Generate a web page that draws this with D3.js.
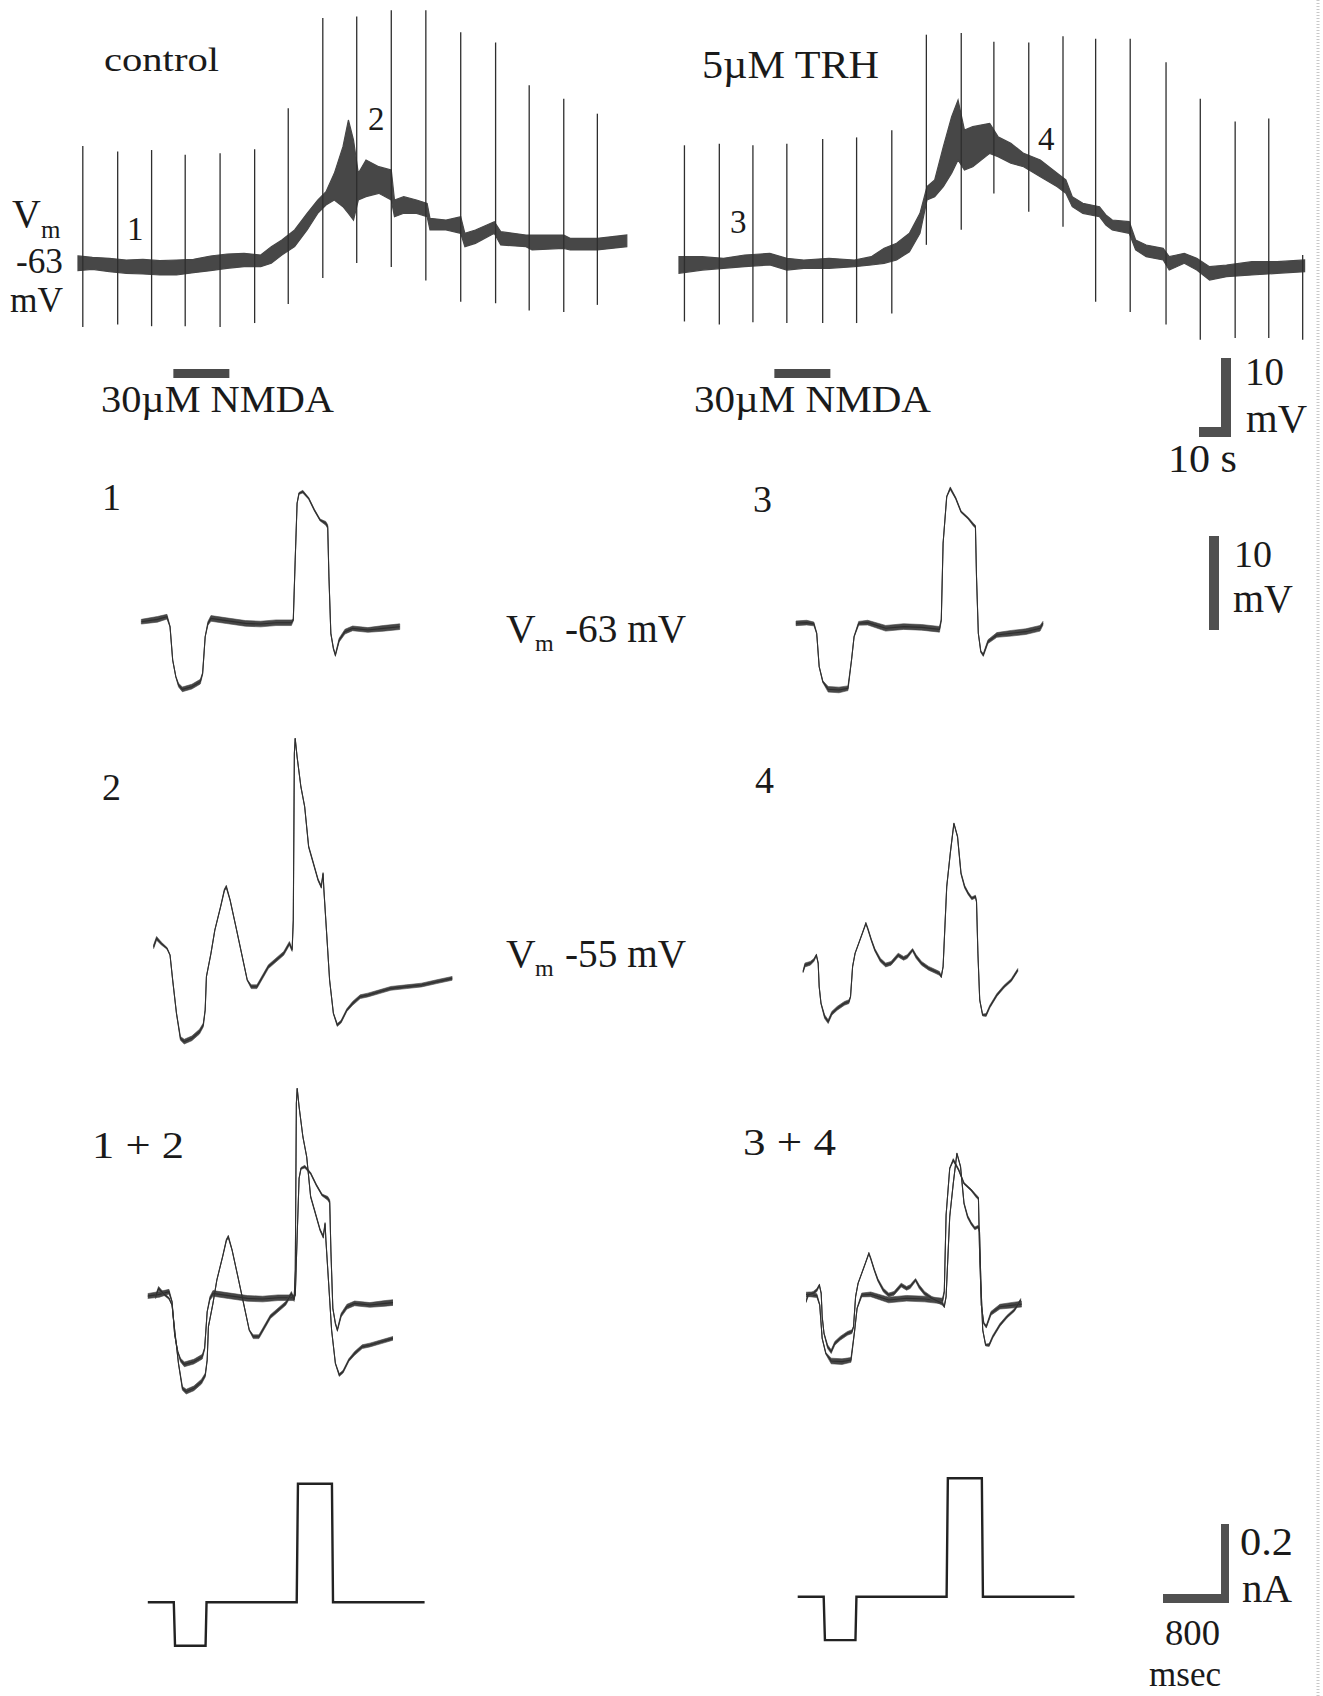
<!DOCTYPE html>
<html>
<head>
<meta charset="utf-8">
<script src="https://cdn.jsdelivr.net/npm/d3@7"></script>
<style>
  body { margin: 0; background: #fff; }
  svg text { font-family: "Liberation Serif", "DejaVu Serif", serif; fill: #1a1a1a; }
</style>
</head>
<body>
<div id="chart"></div>
<script>
// ---- slow recordings (t in s, upper / lower edge of the noisy band in mV) ----
const ctlTrace = [
  [0, -62.11, -63.97], [4.5, -62.28, -63.80], [9.8, -62.41, -64.10], [15.1, -62.62, -64.31],
  [20.3, -62.54, -64.39], [25.6, -62.70, -64.52], [30.8, -62.62, -64.52], [36.1, -62.54, -64.22],
  [41.4, -62.11, -63.97], [46.6, -61.86, -63.68], [51.9, -61.78, -63.46], [57.1, -61.99, -63.46],
  [60.4, -60.93, -63.04], [63.7, -60.09, -61.99], [67.7, -58.82, -60.93], [71.6, -56.71, -58.82],
  [74.9, -55.03, -56.71], [77.5, -53.97, -55.66], [80.1, -51.65, -55.03], [82.8, -48.27, -55.87],
  [84.5, -44.90, -56.71], [86.1, -47.43, -57.56], [87.6, -51.65, -55.03], [90.0, -49.96, -54.60],
  [94.0, -50.81, -54.18], [97.9, -51.23, -55.03], [98.9, -55.03, -57.14], [101.8, -54.60, -56.71],
  [105.8, -55.03, -56.71], [109.1, -55.45, -57.14], [110.0, -57.35, -58.82], [115.0, -57.56, -58.82],
  [119.6, -57.14, -59.24], [120.9, -59.24, -60.93], [124.2, -58.82, -60.51], [130.1, -57.77, -59.24],
  [132.1, -59.03, -60.72], [140.0, -59.46, -60.93], [141.9, -59.46, -61.35], [151.8, -59.46, -61.14],
  [153.8, -59.88, -61.35], [162.3, -59.88, -61.35], [171.5, -59.46, -60.93]
]
const ctlPulseT = [1.5, 12.4, 23.0, 33.5, 44.4, 55.2, 65.7, 76.5, 87.1, 97.9, 108.7, 119.6, 130.5, 141.0, 151.8, 162.3]
const ctlPulseTop = [-48.2, -48.9, -48.7, -49.3, -49.1, -48.6, -43.4, -32.0, -31.8, -31.0, -31.0, -33.8, -35.1, -40.5, -42.2, -44.1]
const ctlPulseBot = [-71.1, -70.8, -71.0, -71.0, -71.1, -70.6, -68.2, -64.9, -63.0, -63.5, -65.2, -67.9, -68.1, -69.0, -69.2, -68.3]

const trhTrace = [
  [0, -62.20, -64.31], [7.3, -62.20, -63.89], [13.9, -62.41, -63.68], [20.5, -61.99, -63.46],
  [28.4, -61.78, -63.25], [33.7, -62.41, -63.89], [39.0, -62.62, -63.68], [46.9, -62.41, -63.68],
  [54.8, -62.62, -63.46], [60.1, -62.20, -63.25], [64.1, -61.14, -63.04], [68.0, -60.51, -62.62],
  [72.0, -59.24, -61.57], [75.3, -56.71, -59.24], [77.5, -53.34, -55.03], [79.9, -52.49, -54.60],
  [82.6, -48.27, -53.34], [85.2, -44.48, -51.65], [87.2, -42.37, -49.96], [89.2, -46.16, -51.23],
  [91.8, -45.74, -50.81], [97.1, -45.32, -49.12], [99.7, -47.01, -49.54], [103.7, -47.85, -50.38],
  [107.7, -49.12, -50.81], [112.9, -49.96, -52.07], [118.2, -51.65, -53.34], [120.9, -52.49, -54.18],
  [122.9, -54.60, -55.87], [126.2, -55.45, -56.71], [131.4, -55.87, -57.14], [133.4, -56.92, -58.19],
  [135.4, -57.56, -58.82], [140.7, -57.77, -59.24], [142.7, -60.09, -61.35], [146.0, -60.72, -62.20],
  [151.3, -61.14, -62.62], [153.2, -62.20, -63.89], [157.9, -61.78, -63.04], [161.8, -62.41, -63.89],
  [165.8, -63.46, -65.15], [171.1, -63.25, -64.73], [179.0, -62.83, -64.52], [186.9, -62.83, -64.31],
  [195.5, -62.62, -64.10]
]
const trhPulseT = [1.7, 12.6, 23.1, 33.7, 44.9, 55.5, 66.5, 77.3, 88.2, 98.4, 109.3, 120.0, 130.2, 141.0, 152.2, 162.9, 173.8, 184.3, 194.9]
const trhPulseTop = [-48.1, -47.9, -48.1, -47.9, -47.3, -47.1, -46.2, -34.1, -33.9, -35.0, -35.1, -34.3, -34.6, -34.6, -37.6, -42.2, -45.1, -44.7, -62.0]
const trhPulseBot = [-70.4, -70.8, -70.5, -70.6, -70.6, -70.6, -69.4, -60.7, -58.8, -54.2, -56.5, -58.4, -67.9, -69.2, -70.8, -72.7, -72.5, -72.5, -72.7]

const nmdaWindow = [29.8, 47.3]   // s

// ---- fast sweeps (t in ms, deflection in mV, noise half-width in mV) ----
const trace1 = [
  [4, 0, .25], [199, .25, .3], [315, .53, .25], [352, -.53, .05], [384, -4.08, .03], [422, -5.85, .05],
  [455, -6.74, .2], [501, -7.2, .25], [616, -6.91, .25], [719, -6.38, .25], [747, -5.5, .1], [778, -1.6, .03],
  [811, -.18, .2], [848, .35, .3], [1034, .11, .3], [1265, -.18, .3], [1451, -.25, .3], [1636, -.11, .3],
  [1823, -.11, .3], [1846, .18, .1], [1869, 6.56, .03], [1892, 12.59, .03], [1915, 13.65, .1], [1961, 13.83, .15],
  [2032, 13.12, .1], [2101, 11.88, .1], [2171, 10.82, .1], [2240, 10.46, .2], [2263, 10.11, .2], [2278, 4.79, .03],
  [2301, -1.24, .03], [2332, -2.84, .1], [2356, -3.55, .1], [2402, -1.95, .2], [2472, -1.06, .25], [2565, -.71, .25],
  [2750, -.88, .25], [2936, -.71, .3], [3136, -.53, .3]
]
const trace2 = [
  [153, 0, .2], [189, .89, .2], [245, .35, .15], [315, -.18, .1], [352, -.89, .05], [384, -3.55, .03],
  [430, -7.09, .03], [478, -9.75, .2], [524, -10.1, .25], [616, -9.75, .25], [709, -9.04, .25], [755, -8.33, .2],
  [778, -6.74, .05], [793, -3.19, .03], [848, -.71, .03], [895, 1.77, .03], [965, 4.26, .05], [1011, 6.03, .1],
  [1034, 6.38, .15], [1080, 4.96, .05], [1150, 2.13, .03], [1219, -.71, .03], [1288, -3.55, .05], [1336, -4.26, .2],
  [1405, -4.26, .2], [1451, -3.55, .2], [1544, -2.13, .2], [1636, -1.42, .2], [1730, -.71, .2], [1799, .35, .2],
  [1832, -.35, .15], [1846, 2.84, .03], [1859, 20.57, .03], [1869, 22.16, .03], [1892, 20.21, .03], [1938, 17.02, .05],
  [1984, 14.89, .05], [2032, 10.64, .1], [2101, 8.51, .1], [2147, 7.09, .1], [2185, 6.38, .15], [2207, 7.8, .1],
  [2217, 6.03, .05], [2240, 2.84, .03], [2286, -3.55, .03], [2332, -7.09, .05], [2379, -8.33, .15], [2425, -7.98, .15],
  [2495, -6.74, .15], [2565, -6.03, .2], [2657, -5.32, .2], [2750, -5.14, .2], [2890, -4.79, .2], [3029, -4.43, .2],
  [3215, -4.26, .2], [3400, -4.08, .2], [3585, -3.72, .2], [3771, -3.37, .2]
]
const trace3 = [
  [0, 0, .25], [130, .07, .25], [217, -.07, .2], [251, -1.06, .05], [281, -4.61, .03], [325, -6.21, .1],
  [390, -7.02, .3], [521, -7.09, .3], [630, -6.91, .25], [673, -3.9, .03], [704, -1.42, .05], [760, 0, .2],
  [869, .07, .25], [1087, -.53, .3], [1304, -.35, .3], [1522, -.43, .3], [1739, -.64, .3], [1761, .35, .1],
  [1783, 8.51, .03], [1827, 13.48, .05], [1870, 14.36, .15], [1936, 13.3, .1], [2000, 11.88, .1], [2087, 11.17, .1],
  [2153, 10.46, .15], [2175, 10.28, .15], [2188, 4.96, .03], [2210, -1.06, .03], [2240, -3.01, .1], [2270, -3.37, .15],
  [2327, -1.95, .2], [2435, -1.24, .25], [2610, -1.06, .3], [2784, -.89, .3], [2958, -.53, .3], [2993, 0, .2]
]
const trace4 = [
  [86, -.71, .1], [108, 0, .2], [173, .18, .2], [217, .53, .15], [247, 1.06, .1], [269, .18, .05],
  [281, -2.3, .03], [303, -4.08, .05], [347, -5.5, .2], [390, -6.03, .2], [434, -5.14, .2], [499, -4.61, .2],
  [587, -4.08, .2], [642, -3.9, .2], [661, -3.37, .05], [686, -.18, .03], [716, 1.24, .03], [760, 2.3, .05],
  [804, 3.37, .05], [847, 4.43, .1], [869, 3.9, .1], [913, 2.66, .1], [956, 1.6, .15], [1022, .53, .2],
  [1087, 0, .2], [1152, .18, .2], [1239, 1.06, .2], [1304, .71, .2], [1348, .89, .2], [1413, 1.6, .15],
  [1457, .89, .2], [1522, .18, .2], [1608, -.35, .2], [1696, -.71, .2], [1739, -.89, .2], [1761, -1.24, .1],
  [1783, -.18, .03], [1827, 8.33, .03], [1870, 11.88, .03], [1914, 15.07, .05], [1958, 13.65, .05], [2000, 9.75, .1],
  [2044, 8.33, .15], [2087, 7.62, .15], [2131, 7.09, .15], [2175, 7.27, .15], [2188, 6.74, .05], [2205, 1.24, .03],
  [2227, -3.72, .03], [2262, -5.32, .1], [2305, -5.32, .15], [2349, -4.43, .15], [2435, -3.19, .15], [2522, -2.3, .15],
  [2610, -1.6, .15], [2688, -.53, .15]
]
const overlay12Window = [58, 3030]
const overlay34Window = [86, 2700]

// injected current (ms, nA)
const stepI = [
  [0, 0], [315, 0], [330, -0.11], [700, -0.11], [712, 0], [1805, 0],
  [1820, 0.3], [2232, 0.3], [2245, 0], [3355, 0]
]

// ---------------------------------------------------------------
const W = 1323, H = 1696
const svg = d3.select('#chart').append('svg')
  .attr('width', W).attr('height', H)
  .style('background', '#fff')

const ink = '#2e2e2e'
const band = '#474747'

function label(txt, x, y, size, len) {
  const t = svg.append('text').attr('x', x).attr('y', y).attr('font-size', size).text(txt)
  if (len) t.attr('textLength', len).attr('lengthAdjust', 'spacingAndGlyphs')
  return t
}

// top panels: 10 mV = 79 px, 10 s = 32 px
const yTop = d3.scaleLinear().domain([-63, -53]).range([263, 184])
const xCtl = d3.scaleLinear().domain([0, 10]).range([78, 110])
const xTrh = d3.scaleLinear().domain([0, 10]).range([679, 711])

function topPanel(x, trace, pT, pTop, pBot) {
  const g = svg.append('g')
  const area = d3.area()
    .x(d => x(d[0]))
    .y0(d => yTop(d[2]))
    .y1(d => yTop(d[1]))
  g.append('path').datum(trace).attr('d', area)
    .attr('fill', band).attr('stroke', band).attr('stroke-width', 1.2)
  g.selectAll('line').data(pT).enter().append('line')
    .attr('x1', d => x(d)).attr('x2', d => x(d))
    .attr('y1', (d, i) => yTop(pTop[i]))
    .attr('y2', (d, i) => yTop(pBot[i]))
    .attr('stroke', ink).attr('stroke-width', 1.3)
  // NMDA application bar
  g.append('rect')
    .attr('x', x(nmdaWindow[0])).attr('y', 369)
    .attr('width', x(nmdaWindow[1]) - x(nmdaWindow[0])).attr('height', 9)
    .attr('fill', '#4a4a4a')
}
topPanel(xCtl, ctlTrace, ctlPulseT, ctlPulseTop, ctlPulseBot)
topPanel(xTrh, trhTrace, trhPulseT, trhPulseTop, trhPulseBot)

// fast sweeps: 10 mV = 94 px, 800 ms = 66 px
const xRow = x0 => d3.scaleLinear().domain([0, 800]).range([x0, x0 + 66])
const yRow = y0 => d3.scaleLinear().domain([0, 10]).range([y0, y0 - 94])
const yCur = y0 => d3.scaleLinear().domain([0, 0.2]).range([y0, y0 - 79])

let clipId = 0
function sweep(x, y, data, win) {
  const g = svg.append('g')
  if (win) {
    const id = 'clip' + (clipId++)
    svg.append('clipPath').attr('id', id).append('rect')
      .attr('x', x(win[0])).attr('y', 0)
      .attr('width', x(win[1]) - x(win[0])).attr('height', H)
    g.attr('clip-path', `url(#${id})`)
  }
  const area = d3.area()
    .x(d => x(d[0]))
    .y0(d => y(d[1] - d[2]))
    .y1(d => y(d[1] + d[2]))
  g.append('path').datum(data).attr('d', area)
    .attr('fill', band).attr('stroke', band).attr('stroke-width', 0.6)
  const line = d3.line().x(d => x(d[0])).y(d => y(d[1]))
  g.append('path').datum(data).attr('d', line)
    .attr('fill', 'none').attr('stroke', ink).attr('stroke-width', 1.1)
}

sweep(xRow(141), yRow(621.7), trace1)
sweep(xRow(796), yRow(623.3), trace3)
sweep(xRow(141), yRow(946.7), trace2)
sweep(xRow(796), yRow(965), trace4)
sweep(xRow(143), yRow(1296.7), trace1, overlay12Window)
sweep(xRow(143), yRow(1296.7), trace2, overlay12Window)
sweep(xRow(799), yRow(1295), trace3, overlay34Window)
sweep(xRow(799), yRow(1295), trace4, overlay34Window)

function currentTrace(x, y) {
  const line = d3.line().x(d => x(d[0])).y(d => y(d[1]))
  svg.append('path').datum(stepI).attr('d', line)
    .attr('fill', 'none').attr('stroke', '#222').attr('stroke-width', 2.4)
}
currentTrace(xRow(147.8), yCur(1602.3))
currentTrace(xRow(797.7), yCur(1596.7))

// ---- scale bars ----
const bar = '#505050'
const mv10Top = yTop(-63) - yTop(-53)
const s10 = xCtl(10) - xCtl(0)
svg.append('rect').attr('x', 1221).attr('y', 437 - mv10Top).attr('width', 10).attr('height', mv10Top).attr('fill', bar)
svg.append('rect').attr('x', 1231 - s10).attr('y', 427).attr('width', s10).attr('height', 10).attr('fill', bar)

const ySmall = yRow(0)
const mv10Small = ySmall(0) - ySmall(10)
svg.append('rect').attr('x', 1209).attr('y', 630 - mv10Small).attr('width', 10).attr('height', mv10Small).attr('fill', bar)

const yc = yCur(0), xc = xRow(0)
const na02 = yc(0) - yc(0.2)
const ms800 = xc(800) - xc(0)
svg.append('rect').attr('x', 1221).attr('y', 1603 - na02).attr('width', 8).attr('height', na02).attr('fill', bar)
svg.append('rect').attr('x', 1229 - ms800).attr('y', 1594).attr('width', ms800).attr('height', 9).attr('fill', bar)

// ---- text ----
label('control', 104, 71, 33, 115)
label('5µM  TRH', 702, 78, 40, 177)
label('V', 12, 227, 40)
label('m', 41, 238, 25)
label('-63', 16, 273, 35, 47)
label('mV', 10, 312, 35, 53)
label('1', 127, 240, 33)
label('2', 368, 130, 33)
label('3', 730, 233, 33)
label('4', 1038, 150, 33)
label('30µM NMDA', 101, 412, 38, 233)
label('30µM NMDA', 694, 412, 38, 237)
label('10', 1245, 385, 39)
label('mV', 1246, 432, 40, 61)
label('10 s', 1168, 472, 40, 69)

label('1', 102, 510, 38)
label('3', 753, 512, 38)
label('V', 506, 642, 41)
label('m', 535, 651, 24)
label('-63  mV', 565, 642, 41, 121)
label('10', 1234, 567, 38)
label('mV', 1233, 612, 40, 60)

label('2', 102, 800, 38)
label('4', 755, 793, 38)
label('V', 506, 967, 41)
label('m', 535, 976, 24)
label('-55  mV', 565, 967, 41, 121)

label('1 + 2', 92, 1158, 38, 92)
label('3 + 4', 743, 1155, 38, 93)

label('0.2', 1240, 1555, 40, 53)
label('nA', 1242, 1602, 40, 50)
label('800', 1165, 1645, 36, 55)
label('msec', 1149, 1686, 35, 72)

// faint scanner edge on the right
svg.append('line').attr('x1', 1318).attr('x2', 1318).attr('y1', 0).attr('y2', H)
  .attr('stroke', '#c8c8c8').attr('stroke-width', 3).attr('stroke-dasharray', '1,2')
</script>
</body>
</html>
